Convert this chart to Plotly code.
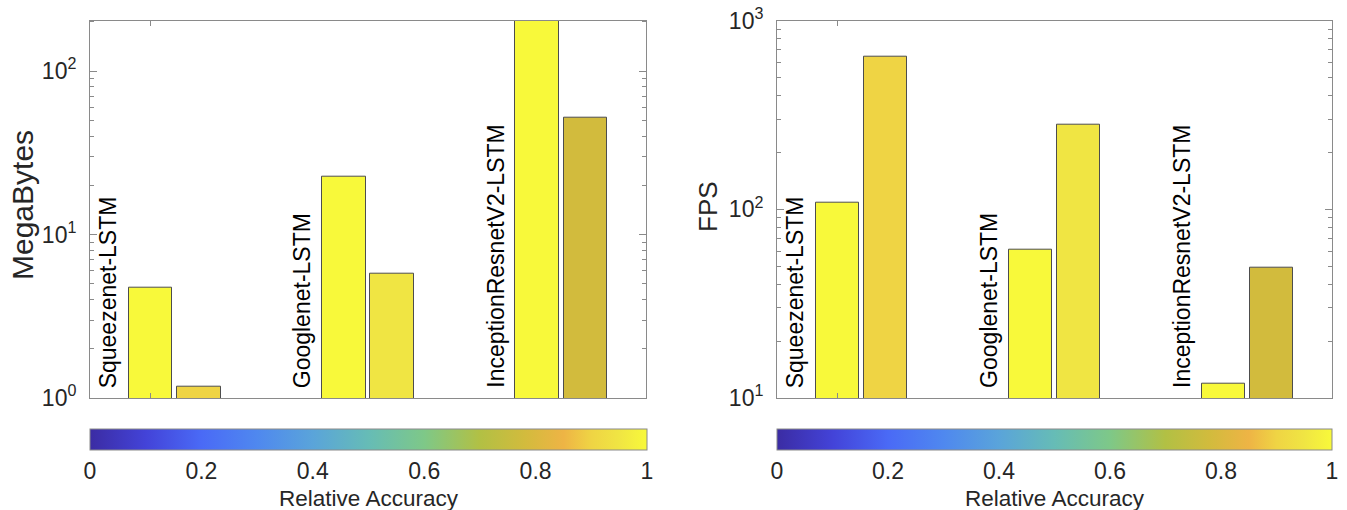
import plotly.graph_objects as go

W, H = 1347, 510

# ---------------- data ----------------
models = ["Squeezenet-LSTM", "Googlenet-LSTM", "InceptionResnetV2-LSTM"]
bar_x = [1, 2, 5, 6, 9, 10]
label_x = [0.13, 4.13, 8.13]
megabytes = [4.7, 1.17, 22.7, 5.72, 203, 51.6]
fps = [108, 646, 61.3, 282, 11.97, 48.9]
rel_acc = [1.0, 0.90, 1.0, 0.95, 1.0, 0.78]

cb_ticks = [0, 0.2, 0.4, 0.6, 0.8, 1]
cb_ticktext = ["0", "0.2", "0.4", "0.6", "0.8", "1"]

parula = [
    [0.00, "#3b2ca3"],
    [0.10, "#4343d8"],
    [0.20, "#4a6af6"],
    [0.30, "#4f88ef"],
    [0.40, "#5aa4da"],
    [0.50, "#66bcb6"],
    [0.60, "#7ec888"],
    [0.70, "#b2c044"],
    [0.78, "#d2bb3d"],
    [0.85, "#eeb445"],
    [0.90, "#efd444"],
    [0.95, "#f0e543"],
    [1.00, "#f8f93a"],
]

FONT = "Liberation Sans, Arial, Helvetica, sans-serif"
TXT = "#262626"
AXC = "#8a8a8a"

# ---------------- geometry (pixels) ----------------
L1, R1 = 90, 646
L2, R2 = 777, 1332
TOP, BOT = 20.7, 398
CB_TOP, CB_BOT = 428.5, 449.5


def px(x):
    return x / W


def py(y):
    return 1 - y / H


def cbar(xc, length):
    return dict(
        orientation="h", x=px(xc), xanchor="center", y=py(CB_TOP), yanchor="top",
        len=length, lenmode="pixels", thickness=CB_BOT - CB_TOP, thicknessmode="pixels",
        outlinewidth=1, outlinecolor=AXC, xpad=0, ypad=0,
        tickvals=cb_ticks, ticktext=cb_ticktext, ticks="outside", ticklen=1,
        tickcolor="rgba(0,0,0,0)", tickfont=dict(size=23, color=TXT, family=FONT),
        title=dict(text="Relative Accuracy", side="bottom",
                   font=dict(size=22.5, color=TXT, family=FONT)),
    )


fig = go.Figure()
fig.add_trace(go.Bar(
    x=bar_x, y=megabytes, width=0.9, xaxis="x", yaxis="y",
    marker=dict(color=rel_acc, colorscale=parula, cmin=0, cmax=1,
                line=dict(color="#4d4d4d", width=1), showscale=True,
                colorbar=cbar((L1 + R1 + 1) / 2, R1 - L1 + 1)),
    showlegend=False, hoverinfo="skip",
))
fig.add_trace(go.Bar(
    x=bar_x, y=fps, width=0.9, xaxis="x2", yaxis="y2",
    marker=dict(color=rel_acc, colorscale=parula, cmin=0, cmax=1,
                line=dict(color="#4d4d4d", width=1), showscale=True,
                colorbar=cbar((L2 + R2) / 2, R2 - L2)),
    showlegend=False, hoverinfo="skip",
))


def xax(l, r, anchor):
    return dict(domain=[px(l), px(r)], range=[-0.25, 11.25], anchor=anchor,
                showline=True, linecolor=AXC, linewidth=1, mirror="ticks",
                tickvals=[1], showticklabels=False, ticks="inside", ticklen=5,
                tickcolor=AXC, showgrid=False, zeroline=False, fixedrange=True)


def yax(rng, vals, anchor):
    minor_vals = [m * 10 ** e for e in range(-1, 4) for m in range(2, 10)]
    return dict(domain=[py(BOT), py(TOP)], type="log", range=rng, anchor=anchor,
                showline=True, linecolor=AXC, linewidth=1, mirror="ticks",
                tickvals=vals, ticktext=["10<sup>%d</sup>" % len(str(v)[1:]) for v in vals],
                ticks="inside", ticklen=7, tickcolor=AXC,
                minor=dict(ticks="inside", ticklen=4, tickcolor=AXC, tickvals=minor_vals,
                           showgrid=False),
                tickfont=dict(size=23, color=TXT, family=FONT), ticklabelstandoff=8,
                showgrid=False, zeroline=False, fixedrange=True)


fig.update_layout(
    width=W, height=H, margin=dict(l=0, r=0, t=0, b=0, autoexpand=False),
    paper_bgcolor="white", plot_bgcolor="white",
    font=dict(family=FONT, color=TXT),
    bargap=0,
    xaxis=xax(L1, R1, "y"),
    yaxis=yax([0, 2.308], [1, 10, 100], "x"),
    xaxis2=xax(L2, R2, "y2"),
    yaxis2=yax([1, 3], [10, 100, 1000], "x2"),
)

annotations = []
for xr in ["x", "x2"]:
    for name, lx in zip(models, label_x):
        annotations.append(dict(
            x=lx, xref=xr, y=py(390), yref="paper", text=name, textangle=-90,
            xanchor="center", yanchor="bottom", showarrow=False,
            font=dict(size=23, color="black", family=FONT)))
annotations.append(dict(x=px(22), xref="paper", y=py(205), yref="paper", text="MegaBytes",
                        textangle=-90, xanchor="center", yanchor="middle", showarrow=False,
                        font=dict(size=30, color=TXT, family=FONT)))
annotations.append(dict(x=px(708), xref="paper", y=py(207), yref="paper", text="FPS",
                        textangle=-90, xanchor="center", yanchor="middle", showarrow=False,
                        font=dict(size=26, color=TXT, family=FONT)))
fig.update_layout(annotations=annotations)

# small inner tick marks on the colour bars
shapes = []
for l, r in [(L1, R1 + 1), (L2, R2)]:
    for v in cb_ticks[1:-1]:
        xx = l + v * (r - l)
        shapes.append(dict(type="line", xref="paper", yref="paper",
                           x0=px(xx), x1=px(xx), y0=py(CB_BOT), y1=py(CB_BOT - 5),
                           line=dict(color="#555555", width=1)))
fig.update_layout(shapes=shapes)

fig.write_html("out.html")
